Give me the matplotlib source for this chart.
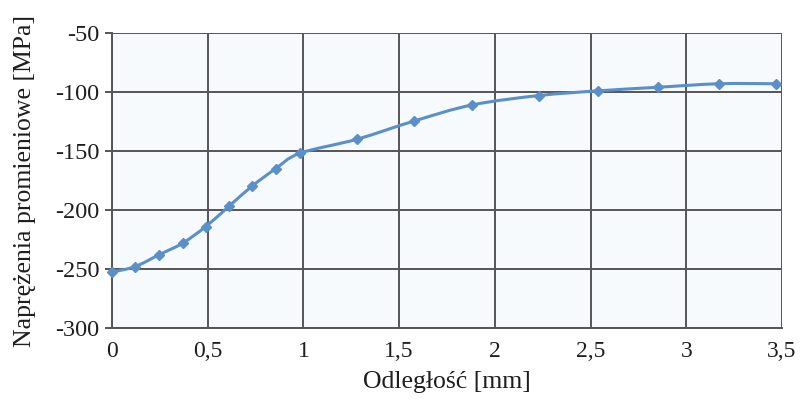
import matplotlib
matplotlib.use("Agg")
import matplotlib.pyplot as plt
import numpy as np
from matplotlib.path import Path
from matplotlib.patches import PathPatch
from matplotlib import font_manager

# odległość [mm] i naprężenia promieniowe [MPa]
distance = [0, 0.12, 0.245, 0.37, 0.49, 0.61, 0.73, 0.855, 0.98,
            1.28, 1.58, 1.88, 2.23, 2.54, 2.85, 3.17, 3.47]
stress = [-252.5, -248, -238, -228, -214, -197, -180, -165, -152,
          -140, -124.5, -111, -103, -99, -96, -93, -93]

xticks = [0, 0.5, 1, 1.5, 2, 2.5, 3, 3.5]
xticklabels = ["0", "0,5", "1", "1,5", "2", "2,5", "3", "3,5"]
yticks = [-300, -250, -200, -150, -100, -50]

line_color = "#5a8fc8"
# fail loudly if the serif font is missing
font_manager.findfont("Liberation Serif", fallback_to_default=False)
plt.rcParams['font.family'] = ['Liberation Serif', 'DejaVu Serif']
plt.rcParams['axes.unicode_minus'] = False

fig = plt.figure(figsize=(8.01, 4.01), dpi=100)
ax = fig.add_axes([0.1398, 0.182, 0.8365, 0.7357])
ax.set_facecolor("#f7fafd")

# smoothed line (Excel-style Bezier through the points)
x = np.array(distance)
y = np.array(stress)
verts = [(x[0], y[0])]
codes = [Path.MOVETO]
t = 1 / 6
for i in range(len(x) - 1):
    p0 = np.array([x[max(i - 1, 0)], y[max(i - 1, 0)]])
    p1 = np.array([x[i], y[i]])
    p2 = np.array([x[i + 1], y[i + 1]])
    p3 = np.array([x[min(i + 2, len(x) - 1)], y[min(i + 2, len(x) - 1)]])
    c1 = p1 + (p2 - p0) * t
    c2 = p2 - (p3 - p1) * t
    verts += [tuple(c1), tuple(c2), tuple(p2)]
    codes += [Path.CURVE4] * 3
ax.add_patch(PathPatch(Path(verts, codes), fill=False, edgecolor=line_color,
                       lw=2.2, zorder=3, clip_on=False))
ax.plot(distance, stress, linestyle="none", marker="D", markersize=5,
        color=line_color, zorder=4, clip_on=False)

ax.set_xlim(0, 3.5)
ax.set_ylim(-300, -50)
ax.set_xticks(xticks)
ax.set_xticklabels(xticklabels)
ax.set_yticks(yticks)
ax.grid(True, color="#555555", lw=1.4)
ax.set_axisbelow(True)
for side in ["top", "right"]:
    ax.spines[side].set_visible(False)
for side in ["left", "bottom"]:
    ax.spines[side].set_color("#555555")
    ax.spines[side].set_linewidth(1.4)
ax.tick_params(axis="x", length=0, pad=9, labelsize=17, labelcolor="#1e1e1e")
ax.tick_params(axis="y", length=5, width=1.4, color="#555555", pad=4,
               labelsize=17.5, labelcolor="#1e1e1e")

ax.set_xlabel("Odległość [mm]", fontsize=18.5, color="#1e1e1e", labelpad=7)
ax.set_ylabel("Naprężenia promieniowe [MPa]", fontsize=18.5, color="#1e1e1e",
              labelpad=14)

plt.savefig("out.png", dpi=100)
